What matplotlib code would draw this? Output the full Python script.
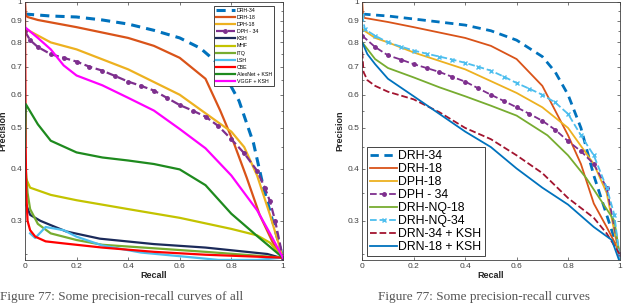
import matplotlib
matplotlib.use("Agg")
import matplotlib.pyplot as plt
from matplotlib.ticker import FixedLocator, NullFormatter

plt.rcParams['font.family'] = ['Liberation Sans', 'DejaVu Sans']

# ---- left panel data (recall, precision) ----
drh34_r = [0, 0.1, 0.2, 0.3, 0.4, 0.5, 0.6, 0.68, 0.74, 0.78, 0.83, 0.886, 0.925, 0.96, 1.0]
drh34_p = [0.935, 0.925, 0.92, 0.905, 0.885, 0.855, 0.82, 0.775, 0.72, 0.66, 0.58, 0.46, 0.36, 0.30, 0.245]

drh18_r = [0, 0.003, 0.01, 0.05, 0.2, 0.4, 0.5, 0.6, 0.7, 0.757, 0.81, 0.86, 0.91, 0.96, 1.0]
drh18_p = [1.0, 0.93, 0.92, 0.905, 0.87, 0.82, 0.785, 0.735, 0.655, 0.55, 0.46, 0.38, 0.31, 0.267, 0.245]

dph18_r = [0, 0.005, 0.1, 0.2, 0.4, 0.6, 0.75, 0.8, 0.85, 0.9, 0.95, 1.0]
dph18_p = [0.87, 0.86, 0.80, 0.77, 0.69, 0.60, 0.515, 0.49, 0.45, 0.385, 0.31, 0.245]

dph34_r = [0, 0.02, 0.05, 0.1, 0.15, 0.2, 0.25, 0.3, 0.35, 0.4, 0.45, 0.5, 0.55, 0.6, 0.65,
           0.7, 0.75, 0.8, 0.85, 0.9, 0.93, 0.95, 0.97, 1.0]
dph34_p = [0.85, 0.81, 0.78, 0.75, 0.735, 0.72, 0.70, 0.685, 0.665, 0.645, 0.63, 0.614, 0.59, 0.567, 0.55,
           0.532, 0.505, 0.47, 0.435, 0.395, 0.36, 0.334, 0.30, 0.245]

ksh_r = [0, 0.003, 0.02, 0.06, 0.1, 0.16, 0.29, 0.5, 0.7, 0.94, 1.0]
ksh_p = [0.34, 0.33, 0.31, 0.30, 0.293, 0.283, 0.272, 0.264, 0.259, 0.25, 0.244]

mhf_r = [0, 0.003, 0.02, 0.1, 0.2, 0.4, 0.6, 0.8, 0.9, 0.95, 1.0]
mhf_p = [0.33, 0.38, 0.36, 0.346, 0.336, 0.32, 0.305, 0.287, 0.277, 0.266, 0.245]

itq_r = [0, 0.003, 0.01, 0.02, 0.05, 0.1, 0.2, 0.3, 0.5, 0.7, 1.0]
itq_p = [0.34, 0.40, 0.35, 0.32, 0.295, 0.28, 0.27, 0.263, 0.258, 0.253, 0.245]

lsh_r = [0.02, 0.04, 0.08, 0.15, 0.2, 0.3, 0.45, 0.6, 0.75, 0.9, 1.0]
lsh_p = [0.28, 0.273, 0.29, 0.285, 0.275, 0.262, 0.252, 0.247, 0.242, 0.242, 0.245]

cbe_r = [0, 0.003, 0.005, 0.01, 0.02, 0.04, 0.08, 0.15, 0.3, 0.5, 0.7, 1.0]
cbe_p = [1.0, 0.44, 0.35, 0.30, 0.285, 0.275, 0.268, 0.265, 0.259, 0.253, 0.249, 0.245]

alex_r = [0, 0.003, 0.05, 0.1, 0.2, 0.3, 0.4, 0.5, 0.6, 0.7, 0.8, 0.9, 1.0]
alex_p = [0.45, 0.57, 0.51, 0.466, 0.437, 0.425, 0.418, 0.41, 0.398, 0.365, 0.312, 0.276, 0.245]

vgg_r = [0, 0.05, 0.1, 0.15, 0.2, 0.3, 0.4, 0.5, 0.6, 0.7, 0.8, 0.9, 0.95, 1.0]
vgg_p = [0.87, 0.82, 0.77, 0.705, 0.667, 0.632, 0.59, 0.55, 0.497, 0.447, 0.385, 0.318, 0.28, 0.245]

# ---- right panel data ----
r_drh34_r = [0, 0.1, 0.2, 0.3, 0.4, 0.5, 0.6, 0.7, 0.75, 0.8, 0.85, 0.9, 0.95, 1.0]
r_drh34_p = [0.935, 0.925, 0.91, 0.895, 0.88, 0.853, 0.81, 0.74, 0.68, 0.60, 0.50, 0.385, 0.31, 0.25]

r_drh18_r = [0, 0.003, 0.01, 0.1, 0.2, 0.4, 0.5, 0.6, 0.7, 0.75, 0.8, 0.85, 0.9, 0.95, 0.99, 1.0]
r_drh18_p = [1.0, 0.93, 0.915, 0.895, 0.87, 0.82, 0.785, 0.73, 0.63, 0.55, 0.48, 0.41, 0.33, 0.29, 0.26, 0.245]

r_dph18_r = [0, 0.05, 0.1, 0.2, 0.4, 0.6, 0.7, 0.8, 0.9, 0.95, 1.0]
r_dph18_p = [0.86, 0.82, 0.80, 0.757, 0.69, 0.606, 0.56, 0.50, 0.41, 0.35, 0.245]

r_dph34_r = [0, 0.05, 0.1, 0.15, 0.2, 0.25, 0.3, 0.35, 0.4, 0.45, 0.5, 0.55, 0.6, 0.65, 0.7, 0.75,
             0.8, 0.85, 0.9, 0.95, 1.0]
r_dph34_p = [0.83, 0.78, 0.745, 0.728, 0.71, 0.695, 0.68, 0.662, 0.645, 0.622, 0.60, 0.58, 0.56, 0.54,
             0.52, 0.495, 0.465, 0.44, 0.41, 0.36, 0.25]

r_nq18_r = [0, 0.05, 0.1, 0.2, 0.3, 0.4, 0.5, 0.6, 0.72, 0.8, 0.87, 0.95, 0.98, 1.0]
r_nq18_p = [0.80, 0.73, 0.695, 0.66, 0.625, 0.595, 0.565, 0.535, 0.48, 0.43, 0.38, 0.32, 0.30, 0.25]

r_nq34_r = [0, 0.01, 0.05, 0.1, 0.15, 0.2, 0.25, 0.3, 0.35, 0.4, 0.45, 0.5, 0.55, 0.6, 0.65, 0.7,
            0.75, 0.8, 0.85, 0.9, 0.95, 0.98, 1.0]
r_nq34_p = [0.93, 0.86, 0.83, 0.80, 0.782, 0.765, 0.752, 0.74, 0.728, 0.715, 0.70, 0.685, 0.663, 0.64,
            0.62, 0.60, 0.575, 0.54, 0.48, 0.43, 0.36, 0.31, 0.245]

r_drn34_r = [0, 0.005, 0.02, 0.05, 0.1, 0.2, 0.3, 0.4, 0.5, 0.6, 0.7, 0.8, 0.9, 0.95, 1.0]
r_drn34_p = [0.76, 0.68, 0.65, 0.63, 0.61, 0.585, 0.545, 0.50, 0.47, 0.43, 0.39, 0.34, 0.305, 0.28, 0.25]

r_drn18_r = [0, 0.02, 0.05, 0.1, 0.2, 0.3, 0.4, 0.5, 0.6, 0.7, 0.8, 0.9, 0.97, 1.0]
r_drn18_p = [0.80, 0.75, 0.71, 0.655, 0.595, 0.54, 0.49, 0.45, 0.40, 0.36, 0.328, 0.29, 0.27, 0.24]

BLUE = '#0072BD'
ORANGE = '#D95319'
YELLOW = '#EDB120'
PURPLE = '#7E2F8E'
GREEN = '#77AC30'
CYAN = '#4DBEEE'
DARKRED = '#A2142F'

yticks = [0.3, 0.4, 0.5, 0.6, 0.7, 0.8, 0.9, 1.0]
ylabels = ['0.3', '0.4', '0.5', '0.6', '0.7', '0.8', '0.9', '1']
xticks = [0, 0.2, 0.4, 0.6, 0.8, 1.0]
xlabels = ['0', '0.2', '0.4', '0.6', '0.8', '1']


def style_axes(ax):
    ax.set_yscale('log')
    ax.set_xlim(0, 1)
    ax.set_ylim(0.242, 1.0)
    ax.yaxis.set_major_locator(FixedLocator(yticks))
    ax.set_yticklabels(ylabels)
    ax.yaxis.set_minor_locator(FixedLocator([0.25, 0.35, 0.45, 0.55, 0.65, 0.75, 0.85, 0.95]))
    ax.yaxis.set_minor_formatter(NullFormatter())
    ax.set_xticks(xticks)
    ax.set_xticklabels(xlabels)
    ax.tick_params(which='both', direction='in', top=True, right=True,
                   labelsize=6, colors='#404040', length=2.5, width=0.5, pad=2)
    ax.tick_params(which='minor', length=1.5)
    for s in ax.spines.values():
        s.set_color('#404040')
        s.set_linewidth(0.6)
    ax.set_xlabel('Recall', fontsize=6.5, fontweight='bold', color='#262626', labelpad=1)
    ax.set_ylabel('Precision', fontsize=6.5, fontweight='bold', color='#262626', labelpad=2)


fig = plt.figure(figsize=(6.4, 3.04), dpi=100)
ax1 = fig.add_axes([0.039, 0.145, 0.403, 0.849])
ax2 = fig.add_axes([0.566, 0.145, 0.402, 0.849])

lw = 1.6
ax1.plot(drh34_r, drh34_p, '--', color=BLUE, lw=2.2, dashes=(3, 2), label='DRH-34')
ax1.plot(drh18_r, drh18_p, color=ORANGE, lw=lw, label='DRH-18')
ax1.plot(dph18_r, dph18_p, color=YELLOW, lw=lw, label='DPH-18')
ax1.plot(dph34_r, dph34_p, '--', color=PURPLE, lw=lw, marker='o', ms=2.5, label='DPH - 34')
ax1.plot(ksh_r, ksh_p, color='#1B2A5A', lw=lw, label='KSH')
ax1.plot(mhf_r, mhf_p, color='#C3C300', lw=lw, label='MHF')
ax1.plot(itq_r, itq_p, color=GREEN, lw=lw, label='ITQ')
ax1.plot(lsh_r, lsh_p, color=CYAN, lw=lw, label='LSH')
ax1.plot(cbe_r, cbe_p, color='#FF0000', lw=lw, label='CBE')
ax1.plot(alex_r, alex_p, color='#1E8A1E', lw=lw, label='AlexNet + KSH')
ax1.plot(vgg_r, vgg_p, color='#FF00FF', lw=lw, label='VGGF + KSH')
style_axes(ax1)
leg1 = ax1.legend(loc='upper right', fontsize=3.8, handlelength=3.6, labelspacing=0.4,
                  borderpad=0.4, handletextpad=0.3, fancybox=False, framealpha=1,
                  edgecolor='#262626', bbox_to_anchor=(0.975, 0.995))
leg1.get_frame().set_linewidth(0.6)

ax2.plot(r_drh34_r, r_drh34_p, '--', color=BLUE, lw=2.0, dashes=(3, 2), label='DRH-34')
ax2.plot(r_drh18_r, r_drh18_p, color=ORANGE, lw=1.3, label='DRH-18')
ax2.plot(r_dph18_r, r_dph18_p, color=YELLOW, lw=1.3, label='DPH-18')
ax2.plot(r_dph34_r, r_dph34_p, '--', color=PURPLE, lw=1.3, marker='o', ms=2.5, label='DPH - 34')
ax2.plot(r_nq18_r, r_nq18_p, color=GREEN, lw=1.3, label='DRH-NQ-18')
ax2.plot(r_nq34_r, r_nq34_p, '--', color=CYAN, lw=1.3, marker='x', ms=3, label='DRH-NQ-34')
ax2.plot(r_drn34_r, r_drn34_p, '--', color=DARKRED, lw=1.3, label='DRN-34 + KSH')
ax2.plot(r_drn18_r, r_drn18_p, color=BLUE, lw=1.3, label='DRN-18 + KSH')
style_axes(ax2)
leg2 = ax2.legend(loc='lower left', fontsize=8.8, handlelength=2.2, labelspacing=0.08,
                  borderpad=0.25, handletextpad=0.1, fancybox=False, framealpha=1,
                  edgecolor='#262626', borderaxespad=0.2, bbox_to_anchor=(0.01, 0.005))
leg2.get_frame().set_linewidth(0.6)

# captions below the two panels
fig.text(0.0, 0.004, 'Figure 77: Some precision-recall curves of all',
         fontsize=9.5, family='Liberation Serif', color='#555555', va='bottom')
fig.text(0.59, 0.004, 'Figure 77: Some precision-recall curves',
         fontsize=9.5, family='Liberation Serif', color='#555555', va='bottom')

fig.savefig('out.png', dpi=100)
